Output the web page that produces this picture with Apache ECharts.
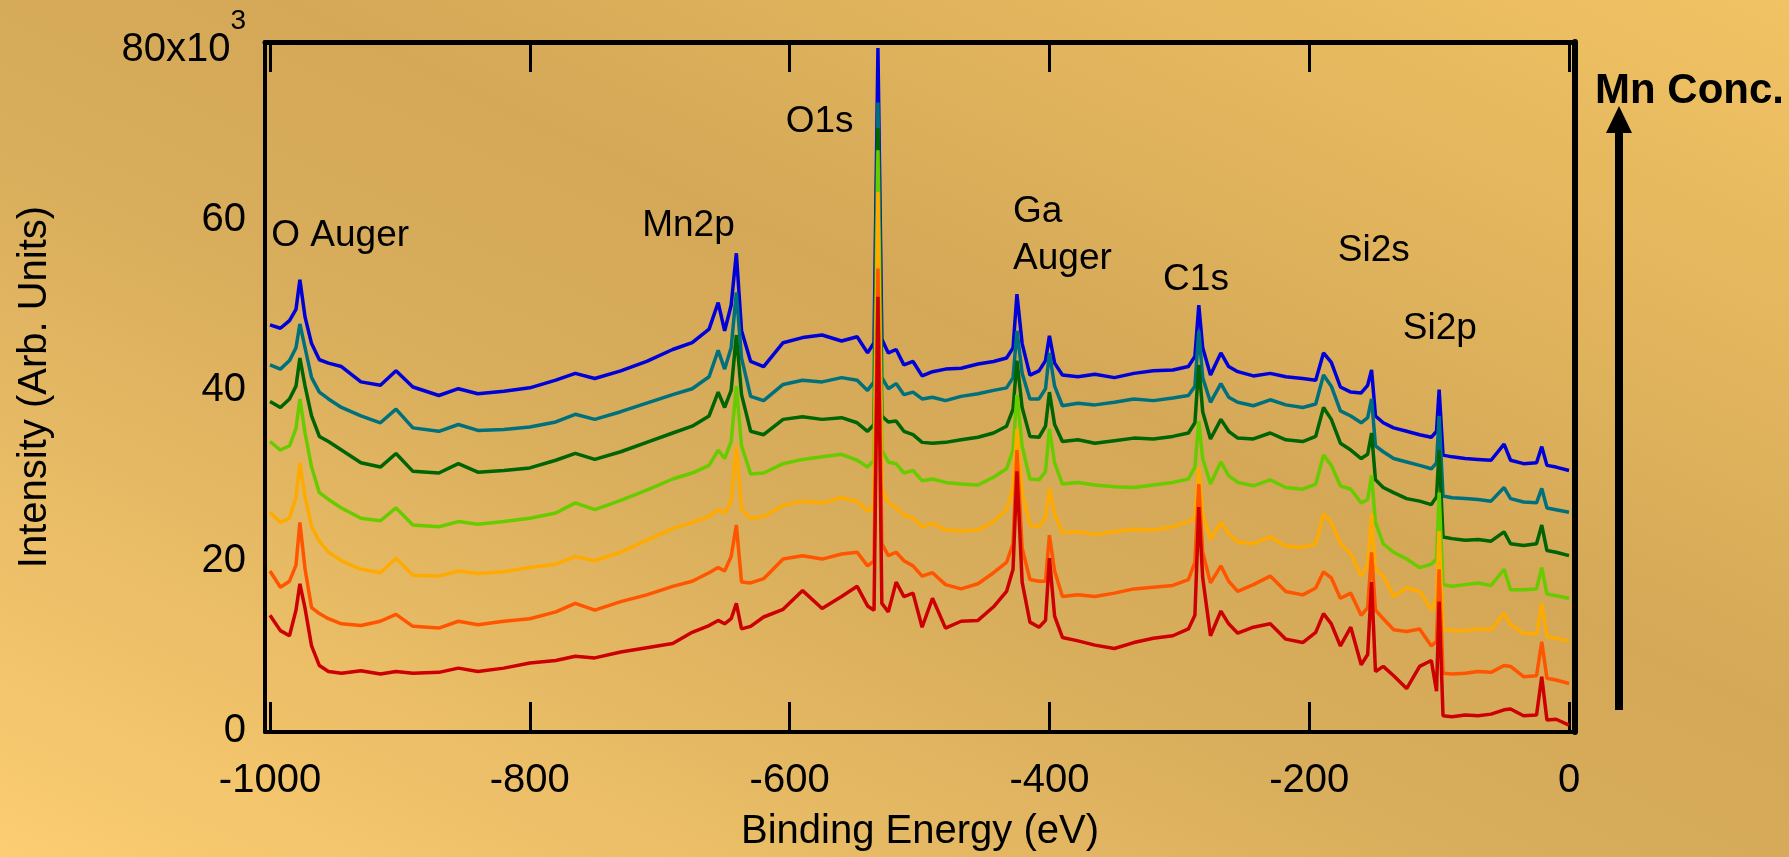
<!DOCTYPE html>
<html>
<head>
<meta charset="utf-8">
<title>XPS survey spectra</title>
<script src="https://cdn.jsdelivr.net/npm/echarts@6.0.0/dist/echarts.min.js"></script>
<style>
html, body { margin: 0; padding: 0; width: 100%; height: 100%; overflow: hidden; }
body { background: linear-gradient(to top right, #fccd72 0%, #d8ad5b 42%, #d4a857 58%, #f2c364 100%); }
#chart { width: 1789px; height: 857px; }
</style>
</head>
<body>
<div id="chart"></div>
<script>
// binding energy grid (eV), denser around the peaks
const energies = [
  -1000, -992, -985, -980, -977, -973, -968, -962, -955, -945,
  -930, -915, -903, -890, -870, -855, -840, -820, -800, -780,
  -765, -750, -730, -710, -690, -675, -662, -655, -650, -645,
  -641, -637, -630, -620, -605, -590, -575, -560, -548, -540,
  -535, -532, -529, -524, -518, -512, -505, -498, -490, -480,
  -468, -455, -443, -433, -428, -425, -421, -415, -408, -403,
  -400, -396, -390, -378, -365, -350, -335, -320, -305, -293,
  -288, -285, -282, -276, -268, -262, -255, -243, -230, -218,
  -205, -195, -189, -183, -176, -168, -160, -155, -152, -149,
  -143, -135, -125, -115, -106, -102, -100, -97, -90, -80,
  -70, -60, -50, -45, -35, -25, -21, -17, -10, 0
]

// intensities in units of 10^3, top spectrum (highest Mn) first
const blue = [
  47.7, 47.3, 48.2, 49.5, 53.0, 48.6, 45.5, 43.6, 43.2, 42.8,
  41.0, 40.6, 42.3, 40.4, 39.4, 40.2, 39.6, 39.9, 40.3, 41.2,
  42.0, 41.4, 42.3, 43.4, 44.8, 45.6, 47.2, 50.3, 47.0, 50.0,
  56.1, 47.0, 43.4, 42.8, 45.6, 46.2, 46.5, 45.8, 46.3, 44.4,
  45.6, 80.2, 46.0, 44.4, 44.8, 43.0, 43.4, 41.7, 42.2, 42.5,
  42.6, 43.1, 43.4, 43.8, 45.0, 51.3, 45.5, 41.8, 42.3, 43.5,
  46.4, 43.2, 41.8, 41.6, 41.9, 41.5, 42.0, 42.3, 42.4, 42.8,
  44.0, 50.0, 45.0, 41.8, 44.4, 42.8, 42.2, 41.7, 42.0, 41.6,
  41.4, 41.2, 44.4, 43.3, 40.4, 39.8, 39.7, 40.6, 42.4, 37.0,
  36.2, 35.6, 35.2, 34.8, 34.5, 35.2, 40.1, 32.4, 32.2, 32.0,
  31.9, 31.8, 33.7, 31.8, 31.4, 31.5, 33.4, 31.2, 31.0, 30.6
]
const teal = [
  43.0, 42.5, 43.5, 45.0, 47.8, 45.0, 41.5, 39.8, 39.0, 38.0,
  37.0, 36.2, 37.8, 35.6, 35.2, 36.0, 35.3, 35.4, 35.7, 36.3,
  37.2, 36.6, 37.5, 38.5, 39.5, 40.2, 41.6, 44.7, 42.5, 45.0,
  51.5, 43.8, 39.3, 38.8, 40.7, 41.2, 41.0, 41.5, 41.2, 40.0,
  41.0, 73.8, 41.5, 40.2, 40.8, 39.5, 39.8, 39.0, 39.2, 38.8,
  39.3, 39.6, 40.0, 40.3, 41.5, 47.0, 42.0, 39.0, 39.0, 40.2,
  44.4, 40.5, 38.2, 38.5, 38.3, 38.6, 39.0, 38.8, 39.1, 39.4,
  40.5, 47.0, 41.5, 38.6, 40.8, 39.2, 38.6, 38.2, 38.9, 38.3,
  38.0, 38.4, 41.8, 40.5, 37.6, 37.0, 36.2, 36.8, 39.0, 33.5,
  32.8, 32.0, 31.6, 31.2, 30.8, 31.5, 37.0, 27.6, 27.4, 27.3,
  27.2, 27.0, 28.6, 27.3, 26.9, 26.8, 28.5, 26.2, 26.0, 25.7
]
const darkGreen = [
  38.7, 38.0, 39.0, 40.5, 43.8, 40.5, 37.0, 34.6, 34.0, 33.0,
  31.5, 31.0, 32.6, 30.5, 30.3, 31.4, 30.4, 30.6, 30.9, 31.8,
  32.6, 31.9, 32.8, 33.9, 35.0, 35.8, 37.0, 39.8, 38.0, 40.0,
  46.5, 39.5, 35.2, 34.8, 36.6, 36.9, 36.6, 36.8, 36.2, 35.2,
  36.0, 70.8, 37.0, 36.3, 36.4, 35.2, 34.8, 33.9, 33.8, 33.9,
  34.2, 34.5, 35.0, 35.8, 37.8, 43.5, 38.0, 34.6, 34.5, 35.8,
  39.8, 36.0, 34.0, 34.2, 33.8, 34.1, 34.4, 34.3, 34.6, 35.0,
  36.2, 43.0, 37.5, 34.3, 36.6, 35.2, 34.4, 34.3, 35.0, 34.2,
  34.0, 34.6, 38.0, 36.6, 33.8, 33.0, 32.0, 32.5, 35.0, 29.5,
  28.6, 28.0, 27.3, 27.0, 26.6, 27.5, 33.0, 22.8, 22.6, 22.4,
  22.5, 22.3, 23.4, 22.0, 21.8, 22.0, 24.2, 21.2, 21.0, 20.6
]
const lightGreen = [
  34.0, 33.0, 33.5, 35.5, 39.0, 35.0, 31.0, 28.0, 27.2, 26.2,
  25.0, 24.7, 26.2, 24.2, 24.0, 24.6, 24.3, 24.6, 25.0, 25.6,
  26.8, 26.0, 27.1, 28.3, 29.6, 30.3, 31.2, 33.0, 32.0, 34.0,
  40.5, 33.5, 30.2, 30.3, 31.4, 31.9, 32.2, 32.5, 31.8, 31.0,
  31.8, 68.2, 33.0, 31.6, 31.4, 30.3, 30.6, 29.4, 29.6, 29.2,
  29.0, 28.9, 29.8, 30.8, 33.0, 39.5, 33.5, 29.6, 29.5, 30.5,
  35.5, 31.5, 29.0, 29.2, 28.9, 28.7, 28.6, 28.9, 29.2, 29.6,
  31.0, 36.4, 32.0, 29.0, 31.6, 30.0, 29.2, 28.8, 29.5, 28.6,
  28.4, 29.0, 32.4, 31.2, 28.8, 28.4, 26.8, 27.2, 30.0, 24.5,
  22.0, 21.0, 20.2, 19.2, 19.6, 20.2, 28.0, 17.2, 17.0, 17.2,
  17.4, 17.1, 19.0, 16.6, 16.6, 16.7, 19.2, 16.1, 15.9, 15.6
]
const amber = [
  25.7, 24.5, 25.0, 27.5, 31.5, 27.5, 24.0, 22.3, 21.0, 20.0,
  19.0, 18.6, 20.3, 18.3, 18.2, 18.8, 18.5, 18.7, 19.2, 19.6,
  20.5, 20.0, 21.0, 22.4, 23.8, 24.5, 25.2, 26.0, 25.6, 27.0,
  33.5, 26.0, 25.0, 25.2, 26.5, 27.0, 26.8, 27.4, 27.0, 25.8,
  26.5, 63.3, 28.5, 26.8, 26.2, 25.4, 25.0, 24.0, 24.4, 23.6,
  23.5, 23.6, 24.6, 26.0, 28.5, 35.5, 28.0, 24.2, 24.0, 25.0,
  28.5, 25.5, 23.3, 23.4, 23.1, 23.4, 23.7, 23.6, 24.0, 24.6,
  25.0, 31.0, 25.5, 22.5, 24.5, 23.2, 22.2, 22.0, 22.8, 21.7,
  21.6, 22.0, 25.5, 24.5, 22.0, 20.8, 18.2, 19.5, 25.5, 19.0,
  18.2, 15.8, 16.8, 16.4, 14.2, 15.6, 23.5, 12.0, 11.8, 11.8,
  12.0, 11.9, 13.8, 12.5, 11.5, 11.4, 15.0, 11.1, 10.9, 10.6
]
const orange = [
  18.8, 16.9, 17.6, 19.5, 24.5, 19.0, 14.5, 13.8, 13.2, 12.6,
  12.4, 12.9, 13.7, 12.3, 12.1, 12.9, 12.5, 12.9, 13.2, 14.0,
  15.0, 14.2, 15.2, 16.0, 17.0, 17.6, 18.6, 19.2, 18.8, 20.5,
  24.2, 17.5, 17.4, 17.9, 20.2, 20.6, 20.2, 20.8, 21.0, 19.4,
  20.0, 54.3, 22.0, 20.6, 21.0, 20.0, 19.4, 18.2, 18.6, 17.2,
  16.7, 17.3, 18.6, 19.8, 22.0, 33.0, 21.5, 17.8, 17.6, 17.6,
  23.0, 18.8, 15.8, 16.0, 15.8, 16.2, 16.7, 16.9, 17.1, 17.8,
  19.8, 29.0, 21.0, 17.4, 19.4, 17.6, 16.4, 17.2, 18.2, 16.4,
  16.0, 16.8, 18.7, 18.0, 15.6, 16.2, 13.6, 14.5, 21.0, 14.2,
  13.2, 11.9, 11.7, 12.0, 10.0, 10.5, 19.0, 6.8, 6.7, 6.8,
  7.0, 6.9, 7.7, 7.6, 6.4, 6.5, 10.5, 6.2, 6.0, 5.6
]
const red = [
  13.6, 11.8, 11.2, 14.2, 17.3, 14.4, 10.0, 7.7, 7.0, 6.8,
  7.1, 6.7, 7.0, 6.8, 6.9, 7.4, 7.0, 7.4, 8.0, 8.3,
  8.8, 8.6, 9.3, 9.8, 10.3, 11.6, 12.4, 13.0, 12.6, 13.2,
  15.0, 12.0, 12.3, 13.4, 14.3, 16.5, 14.4, 15.8, 17.0, 14.7,
  14.2, 51.0, 15.0, 14.0, 17.5, 15.8, 16.2, 12.2, 15.6, 12.1,
  12.9, 13.0, 14.6, 16.4, 19.0, 30.5, 17.5, 12.8, 12.2, 13.0,
  20.3, 13.5, 11.0, 10.6, 10.1, 9.7, 10.4, 10.9, 11.2, 12.0,
  13.6, 26.3, 18.0, 11.2, 14.1, 12.6, 11.5, 12.2, 12.6, 10.8,
  10.4, 11.6, 13.8, 12.6, 10.0, 12.2, 7.8, 9.0, 17.5, 7.0,
  7.6, 6.5, 5.0, 7.6, 8.3, 4.7, 15.2, 1.8, 1.7, 1.9,
  1.8, 2.0, 2.5, 2.6, 1.8, 1.9, 6.4, 1.3, 1.4, 0.7
]

const spectra = [blue, teal, darkGreen, lightGreen, amber, orange, red]
const spectraColors = ['#0000d8', '#00707c', '#006400', '#66cc00', '#ffaa00', '#ff5500', '#cc0000']

const xTicks = [-1000, -800, -600, -400, -200, 0]
const yTicks = [0, 20, 40, 60, 80]

// peak names: [text, energy, intensity] at the label's left / middle
const peakLabels = [
  ['O Auger', -999, 58.2],
  ['Mn2p', -713.5, 59.3],
  ['O1s', -603, 71.5],
  ['Ga', -428, 61.0],
  ['Auger', -428, 55.5],
  ['C1s', -312.5, 53.0],
  ['Si2s', -178, 56.4],
  ['Si2p', -128, 47.2]
]

const FONT = '"Liberation Sans", Arial, sans-serif'
const chart = echarts.init(document.getElementById('chart'))

const option = {
  backgroundColor: 'transparent',
  animation: false,
  textStyle: { fontFamily: FONT, color: '#000' },
  grid: { left: 265, right: 214, top: 42, bottom: 122, containLabel: false },
  xAxis: [
    {
      type: 'value',
      position: 'bottom',
      min: -1003.85,
      max: 4.6,
      axisLine: { show: true, onZero: false, lineStyle: { color: '#000', width: 4 } },
      axisTick: { show: true, inside: true, length: 30, customValues: xTicks, lineStyle: { color: '#000', width: 3 } },
      axisLabel: {
        customValues: xTicks,
        fontSize: 40,
        color: '#000',
        margin: 29,
        fontFamily: FONT,
        formatter: v => String(v)
      },
      splitLine: { show: false },
      name: 'Binding Energy (eV)',
      nameLocation: 'middle',
      nameGap: 80,
      nameTextStyle: { fontSize: 40, color: '#000', fontFamily: FONT }
    },
    {
      type: 'value',
      position: 'top',
      min: -1003.85,
      max: 4.6,
      axisLine: { show: true, onZero: false, lineStyle: { color: '#000', width: 5 } },
      axisTick: { show: true, inside: true, length: 30, customValues: xTicks, lineStyle: { color: '#000', width: 3 } },
      axisLabel: { show: false },
      splitLine: { show: false }
    }
  ],
  yAxis: [
    {
      type: 'value',
      position: 'left',
      min: -0.1,
      max: 80.9,
      axisLine: { show: true, onZero: false, lineStyle: { color: '#000', width: 4 } },
      axisTick: { show: false },
      axisLabel: {
        customValues: yTicks,
        margin: 19,
        color: '#000',
        fontFamily: FONT,
        formatter: v => (v === 80 ? '{b|80x10}{s|3}' : '{b|' + v + '}'),
        rich: {
          b: { fontSize: 40, lineHeight: 85, fontFamily: FONT, color: '#000' },
          s: { fontSize: 28, lineHeight: 28, verticalAlign: 'top', fontFamily: FONT, color: '#000' }
        }
      },
      splitLine: { show: false },
      name: 'Intensity (Arb. Units)',
      nameLocation: 'middle',
      nameGap: 210,
      nameTextStyle: { fontSize: 40, color: '#000', fontFamily: FONT }
    },
    {
      type: 'value',
      position: 'right',
      min: -0.1,
      max: 80.9,
      axisLine: { show: true, onZero: false, lineStyle: { color: '#000', width: 6 } },
      axisTick: { show: false },
      axisLabel: { show: false },
      splitLine: { show: false }
    }
  ],
  series: spectra.map((vals, i) => ({
    type: 'line',
    xAxisIndex: 0,
    yAxisIndex: 0,
    data: energies.map((e, j) => [e, vals[j]]),
    showSymbol: false,
    symbol: 'none',
    lineStyle: { color: spectraColors[i], width: 3.5 },
    z: 2 + i
  }))
}

chart.setOption(option)

const labelGraphics = peakLabels.map(([text, e, k]) => {
  const [px, py] = chart.convertToPixel({ xAxisIndex: 0, yAxisIndex: 0 }, [e, k])
  return {
    type: 'text',
    x: px,
    y: py,
    style: { text, font: '37px ' + FONT, fill: '#000', align: 'left', verticalAlign: 'middle' }
  }
})

chart.setOption({
  graphic: labelGraphics.concat([
    {
      type: 'text',
      x: 1595,
      y: 91,
      style: { text: 'Mn Conc.', font: 'bold 42px ' + FONT, fill: '#000', align: 'left', verticalAlign: 'middle' }
    },
    {
      type: 'line',
      shape: { x1: 1619, y1: 710, x2: 1619, y2: 128 },
      style: { stroke: '#000', lineWidth: 8 }
    },
    {
      type: 'polygon',
      shape: { points: [[1619, 106], [1606, 133], [1632, 133]] },
      style: { fill: '#000' }
    }
  ])
})
</script>
</body>
</html>
